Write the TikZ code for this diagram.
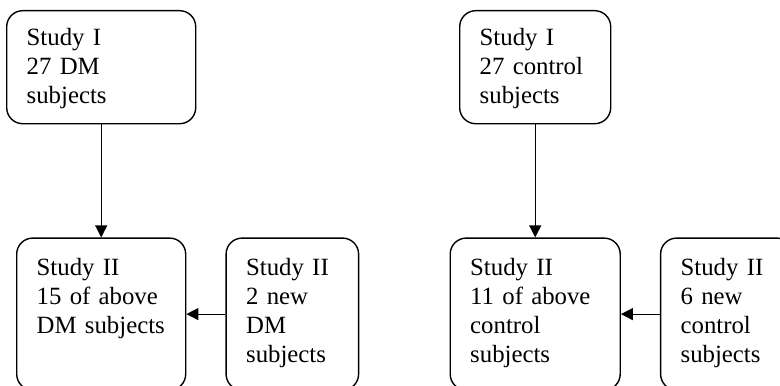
\documentclass[tikz,border=0pt]{standalone}
\usepackage{fontspec}
\setmainfont{Liberation Serif}
\usetikzlibrary{arrows.meta,positioning}

\begin{document}
\begin{tikzpicture}[
  x=0.5pt,y=-0.5pt,
  box/.style={draw,line width=0.7pt,rounded corners=8pt,align=left,
    inner xsep=10pt,inner ysep=0pt,font=\fontsize{12.4pt}{14.5pt}\selectfont},
  studyone/.style={box,text width=#1,text height=17.5pt,text depth=39pt},
  studytwo/.style={box,text width=#1,text height=18.5pt,text depth=57.5pt},
  a/.style={-{Triangle[length=6pt,width=6pt]},line width=0.6pt}
]
  \useasboundingbox (0,0) rectangle (780,385);
  \clip (0,0) rectangle (780,385);
  % DM group
  \node[studyone=74.5pt,anchor=north west] (dmStudyI) at (6,10)
    {Study I\\27 DM\\subjects};
  \node[studytwo=64.5pt,below=56.5pt of dmStudyI] (dmStudyII)
    {Study II\\15 of above\\DM subjects};
  \node[studytwo=46.25pt,right=19.5pt of dmStudyII] (dmNew)
    {Study II\\2 new\\DM\\subjects};
  % control group
  \node[studyone=55.5pt,anchor=north west] (ctrlStudyI) at (459,10)
    {Study I\\27 control\\subjects};
  \node[studytwo=65pt,below=56.5pt of ctrlStudyI] (ctrlStudyII)
    {Study II\\11 of above\\control\\subjects};
  \node[studytwo=46.25pt,right=19.5pt of ctrlStudyII] (ctrlNew)
    {Study II\\6 new\\control\\subjects};
  \draw[a] (dmStudyI) -- (dmStudyII);
  \draw[a] (dmNew) -- (dmStudyII);
  \draw[a] (ctrlStudyI) -- (ctrlStudyII);
  \draw[a] (ctrlNew) -- (ctrlStudyII);
\end{tikzpicture}
\end{document}
